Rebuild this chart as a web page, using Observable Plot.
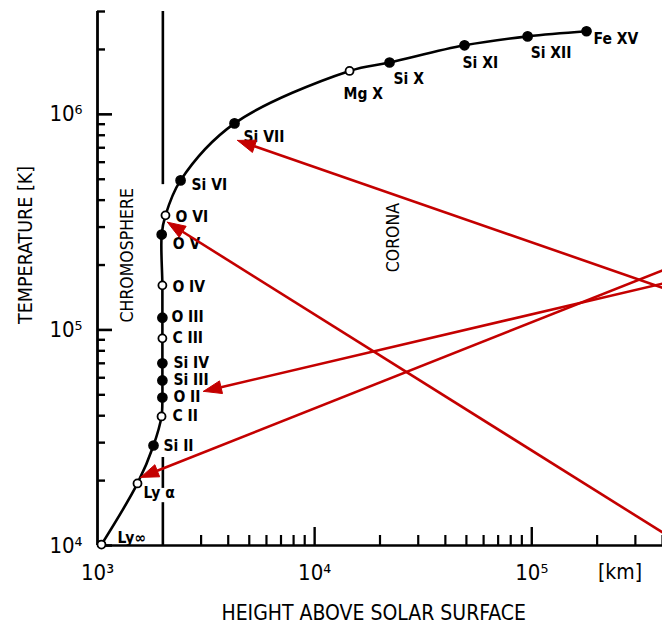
<!DOCTYPE html>
<html><head><meta charset="utf-8">
<script src="https://cdn.jsdelivr.net/npm/d3@7"></script>
<script src="https://cdn.jsdelivr.net/npm/@observablehq/plot@0.6"></script>
<style>
html,body{margin:0;padding:0;background:#fff;overflow:hidden;}
</style></head><body><div id="chart"></div>
<script>
// ---- data ----
const ions    = ["Ly∞","Ly α","Si II","C II","O II","Si III","Si IV","C III","O III","O IV","O V","O VI","Si VI","Si VII","Mg X","Si X","Si XI","Si XII","Fe XV"];
const heights = [1043,1528,1811,1972,1990,1990,1990,1990,1990,1990,1975,2056,2413,4276,14480,22130,49000,95700,178700];
const temps   = [1.01e4,1.94e4,2.91e4,3.97e4,4.86e4,5.83e4,7.0e4,9.14e4,1.14e5,1.61e5,2.77e5,3.4e5,4.94e5,9.08e5,1.59e6,1.74e6,2.09e6,2.30e6,2.43e6];
const filled  = [false,false,true,false,true,true,true,false,true,false,true,false,true,true,false,true,true,true,true];

const xMajor = [1e3,1e4,1e5];
const xMinor = [3e3,4e3,5e3,6e3,7e3,8e3,9e3,2e4,3e4,4e4,5e4,6e4,7e4,8e4,9e4,2e5,3e5,4e5];
const yMajor = [1e4,1e5,1e6];
const yMinor = [2e4,3e4,4e4,5e4,6e4,7e4,8e4,9e4,2e5,3e5,4e5,5e5,6e5,7e5,8e5,9e5,2e6,3e6];
const supDigits = {3:"³",4:"⁴",5:"⁵",6:"⁶"};

const boundaryHeight = 2000; // km, chromosphere / corona boundary
const boundarySegments = [[1e4,1.58e4],[1.84e4,2.56e4],[4.72e5,3e6]];

const regionLabels = ["CHROMOSPHERE","CORONA"];
const regionH = [1375, 23070];
const regionT = [2.22e5, 2.68e5];

const arrowTipH  = [4415, 2099, 3077, 1578];
const arrowTipT  = [7.57e5, 3.16e5, 5.19e4, 2.07e4];
const arrowTailH = [4e5, 4e5, 4e5, 4e5];
const arrowTailT = [1.57e5, 1.15e4, 1.64e5, 1.89e5];

// ---- layout ----
const W = 662, H = 627;
const mL = 97, mR = 0, mT = 11, mB = 82;
const xDomain = [1e3, 4e5], yDomain = [1e4, 3e6];
const xRange = [mL, W - mR], yRange = [H - mB, mT];
const innerW = W - mL - mR, innerH = H - mT - mB;
const labelDx = [16,6,10,11,11,11,11,10,9,10,11,10,11,9,-6,4,-2,3,7];
const labelDy = [-7,10,1,0,0,0,0,0,-1,2,9,2,5,14,23,17,18,17,8];
const FONT = "'DejaVu Sans Condensed','DejaVu Sans',sans-serif";
const RED = "#c40000";

const pts = ions.map((ion,i)=>({ion, h: heights[i], t: temps[i], filled: filled[i]}));

// arrowheads as filled triangles, built through the same log scales
const xs = d3.scaleLog().domain(xDomain).range(xRange);
const ys = d3.scaleLog().domain(yDomain).range(yRange);
const headL = 18, headW = 6.5;
const shafts = [], heads = [];
arrowTipH.forEach((_, i) => {
  const px = xs(arrowTipH[i]), py = ys(arrowTipT[i]);
  const qx = xs(arrowTailH[i]), qy = ys(arrowTailT[i]);
  const len = Math.hypot(px-qx, py-qy);
  const ux = (px-qx)/len, uy = (py-qy)/len;
  const bx = px - headL*ux, by = py - headL*uy;
  const nx = -uy, ny = ux;
  shafts.push({h1: arrowTailH[i], t1: arrowTailT[i], h2: xs.invert(bx), t2: ys.invert(by)});
  heads.push({id:i, h: arrowTipH[i], t: arrowTipT[i]});
  heads.push({id:i, h: xs.invert(bx + headW*nx), t: ys.invert(by + headW*ny)});
  heads.push({id:i, h: xs.invert(bx - headW*nx), t: ys.invert(by - headW*ny)});
  heads.push({id:i, h: arrowTipH[i], t: arrowTipT[i]});
});

const fmt = d => "10" + supDigits[Math.round(Math.log10(d))];

const marks = [
  // axes lines
  Plot.ruleY([1e4], {y: d=>d, stroke: "#000", strokeWidth: 2.6}),
  Plot.ruleX([1e3], {x: d=>d, y1: 1e4, y2: 3e6, stroke: "#000", strokeWidth: 2.8}),
  // ticks
  Plot.tickY(yMinor, {y: d=>d, insetRight: innerW - 8, strokeWidth: 2.4}),
  Plot.tickY(yMajor, {y: d=>d, insetRight: innerW - 15, strokeWidth: 2.6}),
  Plot.tickX(xMinor, {x: d=>d, insetTop: innerH - 10, strokeWidth: 2.2}),
  Plot.tickX(xMajor.slice(1), {x: d=>d, insetTop: innerH - 18, strokeWidth: 2.4}),
  Plot.axisX({ticks: xMajor, tickSize: 0, tickPadding: 19, tickFormat: fmt, fontSize: 22, label: null, fontFamily: FONT}),
  Plot.axisY({ticks: yMajor, tickSize: 0, tickPadding: 15, tickFormat: fmt, fontSize: 22, label: null, fontFamily: FONT}),
  Plot.text(["[km]"], {x: () => 2.55e5, y: () => 1e4, dy: 27, text: d=>d, fontSize: 21, fontFamily: FONT}),
  Plot.text(["HEIGHT ABOVE SOLAR SURFACE"], {x: () => 1.87e4, y: () => 1e4, dy: 68, text: d=>d, fontSize: 21, fontFamily: FONT}),
  Plot.text(["TEMPERATURE [K]"], {frameAnchor: "left", y: () => 2.48e5, dx: -72, rotate: -90, textAnchor: "middle", text: d=>d, fontSize: 19.5, fontFamily: FONT}),
  // boundary line
  Plot.ruleX(boundarySegments, {x: () => boundaryHeight, y1: d=>d[0], y2: d=>d[1], stroke: "#000", strokeWidth: 2.6}),
  // region labels
  ...regionLabels.map((r,i)=>Plot.text([r], {x: () => regionH[i], y: () => regionT[i], text: d=>d, rotate: -90, fontSize: 17.5, fontFamily: FONT})),
  // curve
  Plot.line(pts, {x: "h", y: "t", curve: "catmull-rom", stroke: "#000", strokeWidth: 2.6}),
  Plot.dot(pts.filter(d=>d.filled), {x: "h", y: "t", r: 4.6, fill: "#000", stroke: "#000"}),
  Plot.dot(pts.filter(d=>!d.filled), {x: "h", y: "t", r: 4, fill: "#fff", stroke: "#000", strokeWidth: 1.8}),
  ...pts.map((p,i)=>Plot.text([p], {x: "h", y: "t", text: "ion", textAnchor: "start", dx: labelDx[i], dy: labelDy[i], fontSize: 15.5, fontWeight: "bold", fontFamily: FONT})),
  // red arrows
  Plot.link(shafts, {x1: "h1", y1: "t1", x2: "h2", y2: "t2", stroke: RED, strokeWidth: 2.6}),
  Plot.line(heads, {x: "h", y: "t", z: "id", fill: RED, stroke: RED, strokeWidth: 1, curve: "linear"})
];

const chart = Plot.plot({
  width: W, height: H,
  marginLeft: mL, marginRight: mR, marginTop: mT, marginBottom: mB,
  x: {type: "log", domain: xDomain, range: xRange},
  y: {type: "log", domain: yDomain, range: yRange},
  style: {fontFamily: FONT, background: "#fff", color: "#000"},
  marks
});
document.getElementById("chart").appendChild(chart);
</script></body></html>
